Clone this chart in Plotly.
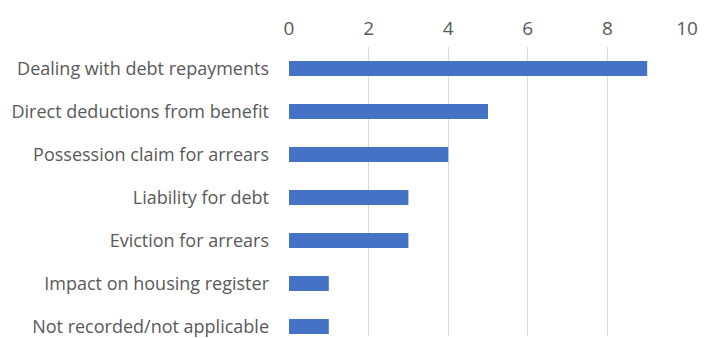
import plotly.graph_objects as go

categories = [
    "Dealing with debt repayments",
    "Direct deductions from benefit",
    "Possession claim for arrears",
    "Liability for debt",
    "Eviction for arrears",
    "Impact on housing register",
    "Not recorded/not applicable",
]
values = [9, 5, 4, 3, 3, 1, 1]
x_ticks = [0, 2, 4, 6, 8, 10]

fig = go.Figure(
    go.Bar(
        x=values,
        y=categories,
        orientation="h",
        width=0.35,
        marker=dict(color="#4472C4", line=dict(width=0)),
    )
)

fig.update_layout(
    width=713,
    height=338,
    margin=dict(l=289, r=26, t=47, b=0, pad=0),
    paper_bgcolor="white",
    plot_bgcolor="white",
    font=dict(family="Open Sans", size=18, color="#595959"),
    showlegend=False,
)

fig.update_xaxes(
    side="top",
    range=[0, 10],
    tickvals=x_ticks,
    showgrid=True,
    gridcolor="#D9D9D9",
    gridwidth=1,
    zeroline=False,
    showline=False,
    ticks="",
    ticklabelstandoff=7,
    tickfont=dict(size=19, color="#595959"),
)

fig.update_yaxes(
    type="category",
    categoryorder="array",
    categoryarray=categories,
    range=[6.22, -0.5],
    showgrid=False,
    zeroline=False,
    showline=False,
    ticks="",
    ticklabelstandoff=19,
    tickfont=dict(size=18, color="#595959"),
)

fig.write_html("out.html")
